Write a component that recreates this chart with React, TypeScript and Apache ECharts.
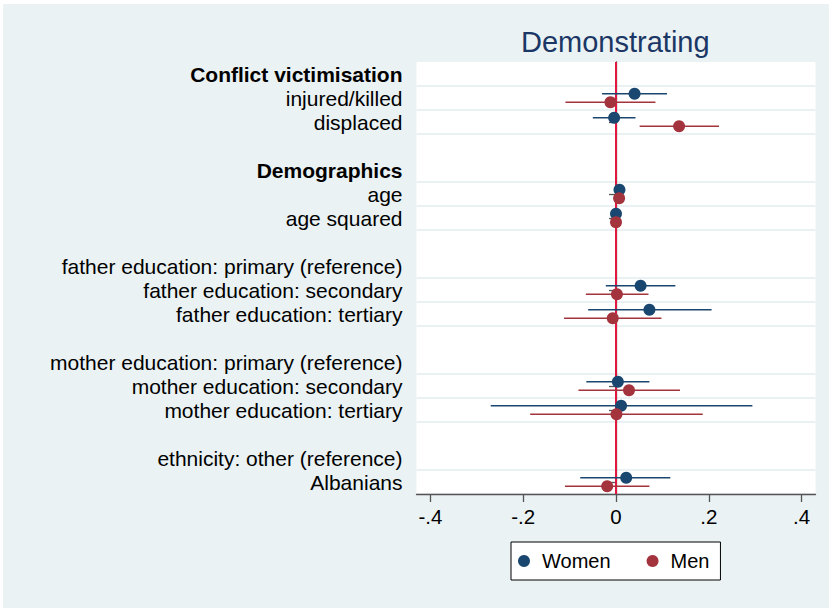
import React, { useEffect, useRef } from "react";
import * as echarts from "echarts";

const categories = [
  "Conflict victimisation",
  "injured/killed",
  "displaced",
  " ",
  "Demographics",
  "age",
  "age squared",
  "  ",
  "father education: primary (reference)",
  "father education: secondary",
  "father education: tertiary",
  "   ",
  "mother education: primary (reference)",
  "mother education: secondary",
  "mother education: tertiary",
  "    ",
  "ethnicity: other (reference)",
  "Albanians",
];
const headers = ["Conflict victimisation", "Demographics"];

const womenCoef = [null, 0.040, -0.004, null, null, 0.0075, 0.000, null, null, 0.053, 0.072, null, null, 0.004, 0.011, null, null, 0.022];
const womenLo = [null, -0.030, -0.050, null, null, 0.004, -0.001, null, null, -0.022, -0.060, null, null, -0.064, -0.270, null, null, -0.077];
const womenHi = [null, 0.110, 0.042, null, null, 0.011, 0.001, null, null, 0.128, 0.206, null, null, 0.072, 0.294, null, null, 0.117];
const menCoef = [null, -0.012, 0.136, null, null, 0.0067, 0.000, null, null, 0.002, -0.007, null, null, 0.028, 0.001, null, null, -0.019];
const menLo = [null, -0.109, 0.051, null, null, 0.004, -0.001, null, null, -0.065, -0.112, null, null, -0.081, -0.185, null, null, -0.110];
const menHi = [null, 0.085, 0.222, null, null, 0.010, 0.001, null, null, 0.070, 0.098, null, null, 0.138, 0.187, null, null, 0.072];

const xTickValues = [-0.4, -0.2, 0, 0.2, 0.4];
const seriesNames = ["Women", "Men"];
const title = "Demonstrating";

const FONT = "'Liberation Sans', Arial, sans-serif";
const NAVY = "#1A476F";
const MAROON = "#A3343E";
const ZERO = "#E2173F";
const AXIS = "#555555";

const isCoef = (i: number) => i >= 0 && i < womenCoef.length && womenCoef[i] != null;

function buildData(coef: (number | null)[], lo: (number | null)[], hi: (number | null)[]) {
  const out: number[][] = [];
  coef.forEach((c, i) => {
    if (c != null) out.push([i, c, lo[i] as number, hi[i] as number]);
  });
  return out;
}

function makeRender(color: string, offsetFrac: number) {
  return (params: any, api: any) => {
    const row = api.value(0);
    const c = api.value(1);
    const lo = api.value(2);
    const hi = api.value(3);
    const band = api.size([0, 1])[1];
    const p = api.coord([c, row]);
    const pl = api.coord([lo, row]);
    const ph = api.coord([hi, row]);
    const y = p[1] + offsetFrac * band;
    return {
      type: "group",
      children: [
        {
          type: "line",
          shape: { x1: pl[0], y1: y, x2: ph[0], y2: y },
          style: { stroke: color, lineWidth: 1.6 },
        },
        {
          type: "circle",
          shape: { cx: p[0], cy: y, r: 6 },
          style: { fill: color },
        },
      ],
    };
  };
}

export default function App() {
  const ref = useRef<HTMLDivElement>(null);
  useEffect(() => {
    if (!ref.current) return;
    const chart = echarts.init(ref.current, undefined, { renderer: "svg" });
    const option: any = {
      animation: false,
      backgroundColor: "#EAF2F3",
      textStyle: { fontFamily: FONT },
      title: {
        text: title,
        left: 518,
        top: 23,
        padding: 0,
        textStyle: { fontFamily: FONT, fontSize: 29, fontWeight: "normal", color: "#1B3766" },
      },
      legend: {
        left: 508,
        top: 538,
        orient: "horizontal",
        backgroundColor: "#ffffff",
        borderColor: "#000000",
        borderWidth: 1,
        padding: [9, 11, 9, 7],
        itemWidth: 12,
        itemHeight: 12,
        itemGap: 36,
        textStyle: { fontFamily: FONT, fontSize: 20, color: "#000", padding: [0, 0, 0, 7] },
        data: [
          { name: seriesNames[0], icon: "circle" },
          { name: seriesNames[1], icon: "circle" },
        ],
      },
      grid: {
        left: 413.5,
        top: 58,
        width: 399,
        height: 432,
        show: true,
        backgroundColor: "#ffffff",
        borderWidth: 0,
        containLabel: false,
      },
      xAxis: {
        type: "value",
        min: -0.43,
        max: 0.43,
        axisLine: { show: true, onZero: false, lineStyle: { color: AXIS, width: 1.3 } },
        axisTick: { show: true, length: 8, customValues: xTickValues, lineStyle: { color: AXIS, width: 1.3 } },
        axisLabel: {
          customValues: xTickValues,
          fontFamily: FONT,
          fontSize: 20.5,
          color: "#000",
          margin: 12,
          formatter: (v: number) => (v === 0 ? "0" : String(v).replace("0.", ".")),
        },
        splitLine: { show: false },
      },
      yAxis: {
        type: "category",
        inverse: true,
        data: categories,
        boundaryGap: true,
        axisLine: { show: true, lineStyle: { color: AXIS, width: 1.3 } },
        axisTick: {
          show: true,
          alignWithLabel: true,
          length: 7,
          interval: (i: number) => isCoef(i),
          lineStyle: { color: AXIS, width: 1.3 },
        },
        axisLabel: {
          interval: 0,
          margin: 14,
          fontFamily: FONT,
          fontSize: 21,
          color: "#000",
          formatter: (v: string) => (headers.includes(v) ? `{b|${v}}` : v),
          rich: {
            b: { fontFamily: FONT, fontSize: 21, fontWeight: "bold", color: "#000" },
          },
        },
        splitLine: {
          show: true,
          interval: (i: number) => isCoef(i) || isCoef(i - 1),
          lineStyle: { color: "#E3EDF0", width: 1.5 },
        },
      },
      series: [
        {
          type: "custom",
          name: "zero",
          z: 1,
          silent: true,
          clip: false,
          data: [[0, 0]],
          encode: { x: 0, y: 1 },
          renderItem: (params: any, api: any) => {
            const x = api.coord([0, 0])[0];
            const cs = params.coordSys;
            return {
              type: "line",
              shape: { x1: x, y1: cs.y, x2: x, y2: cs.y + cs.height },
              style: { stroke: ZERO, lineWidth: 2 },
            };
          },
        },
        {
          type: "custom",
          name: seriesNames[0],
          z: 3,
          itemStyle: { color: NAVY },
          data: buildData(womenCoef, womenLo, womenHi),
          encode: { x: [1, 2, 3], y: 0 },
          renderItem: makeRender(NAVY, -0.175),
        },
        {
          type: "custom",
          name: seriesNames[1],
          z: 3,
          itemStyle: { color: MAROON },
          data: buildData(menCoef, menLo, menHi),
          encode: { x: [1, 2, 3], y: 0 },
          renderItem: makeRender(MAROON, 0.175),
        },
      ],
    };
    chart.setOption(option);
    return () => chart.dispose();
  }, []);
  return (
    <div style={{ position: "absolute", left: 0, top: 0, width: 829, height: 608, background: "#ffffff" }}>
      <div ref={ref} style={{ position: "absolute", left: 3, top: 4, width: 826, height: 604 }} />
    </div>
  );
}
